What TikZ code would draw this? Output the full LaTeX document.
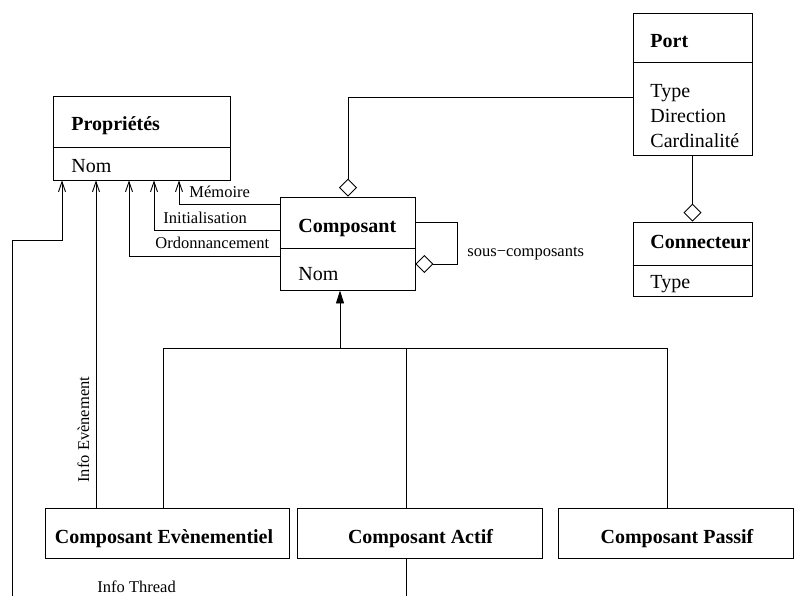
\documentclass[tikz,border=0pt]{standalone}
\usepackage{fontspec}
\setmainfont{Liberation Serif}
\usetikzlibrary{arrows.meta}
\begin{document}
\begin{tikzpicture}[x=1pt,y=-1pt, line width=0.9pt,
  cls/.style={draw, rectangle, inner sep=0pt},
  ttl/.style={font=\fontsize{20}{24}\selectfont\bfseries, inner sep=0pt, anchor=base west},
  ttlc/.style={font=\fontsize{20}{24}\selectfont\bfseries, inner sep=0pt, anchor=base},
  attr/.style={font=\fontsize{20}{24}\selectfont, inner sep=0pt, anchor=base west},
  lbl/.style={font=\fontsize{16.5}{20}\selectfont, inner sep=0pt, anchor=base west},
  uses/.style={-{Straight Barb[length=10pt,width=7pt]}},
  aggstart/.style={{Diamond[open,length=18pt,width=18pt]}-},
  aggend/.style={-{Diamond[open,length=18pt,width=18pt]}},
  inh/.style={-{Triangle[length=13pt,width=8pt]}}
]
\useasboundingbox (0,0) rectangle (794,595);
\clip (0,0) rectangle (794,595);

% Proprietes
\node[cls, minimum width=177pt, minimum height=84pt] (prop) at (141.5,138) {};
\draw (prop.west |- 0,147) -- (prop.east |- 0,147);
\node[ttl] (propT) at (71,130) {Propriétés};
\node[attr] (propA) at (71,172) {Nom};

% Composant
\node[cls, minimum width=135pt, minimum height=93pt] (comp) at (347.5,243.5) {};
\draw (comp.west |- 0,248) -- (comp.east |- 0,248);
\node[ttl] (compT) at (298,232) {Composant};
\node[attr] (compA) at (298,280) {Nom};

% Port
\node[cls, minimum width=119pt, minimum height=142pt] (port) at (692.5,84) {};
\draw (port.west |- 0,62) -- (port.east |- 0,62);
\node[ttl] (portT) at (650,47) {Port};
\node[attr] (portA) at (650,97) {Type};
\node[attr] (portB) at (650,122) {Direction};
\node[attr] (portC) at (650,147) {Cardinalité};

% Connecteur
\node[cls, minimum width=119pt, minimum height=74pt] (conn) at (692.5,259) {};
\draw (conn.west |- 0,265) -- (conn.east |- 0,265);
\node[ttl] (connT) at (650,248) {Connecteur};
\node[attr] (connA) at (650,288) {Type};

% Bottom classes
\node[cls, minimum width=244pt, minimum height=50pt] (evt) at (167,533) {};
\node[ttlc] (evtT) at (164,543) {Composant Evènementiel};
\node[cls, minimum width=245pt, minimum height=50pt] (act) at (419.5,533) {};
\node[ttlc] (actT) at (420.5,543) {Composant Actif};
\node[cls, minimum width=235pt, minimum height=50pt] (pas) at (675.5,533) {};
\node[ttlc] (pasT) at (677,543) {Composant Passif};

% Associations to Proprietes
\draw[uses] (comp.west |- 0,204) -| (prop.south -| 179,0);
\node[lbl] (lMem) at (189,197) {Mémoire};
\draw[uses] (comp.west |- 0,230) -| (prop.south -| 154,0);
\node[lbl] (lIni) at (163,223) {Initialisation};
\draw[uses] (comp.west |- 0,256) -| (prop.south -| 129,0);
\node[lbl] (lOrd) at (155,248) {Ordonnancement};

\draw[uses] (evt.north -| 96,0) -- (prop.south -| 96,0);
\node[lbl, rotate=90] (lEvt) at (89,483) {Info Evènement};

\coordinate (tbot) at (406,610);
\draw[uses] (act.south -| 406,0) -- (tbot) -| (12,240) -| (prop.south -| 62,0);
\node[lbl] (lThr) at (97,592) {Info Thread};

% Port / Connecteur
\draw[aggstart] (comp.north -| 348,0) -- (348,97) -- (port.west |- 0,97);
\draw[aggend] (port.south) -- (conn.north);

% sous-composants
\draw[aggstart] (comp.east |- 0,264) -- (457,264) -- (457,222) -- (comp.east |- 0,222);
\node[lbl] (lSous) at (467,256) {sous−composants};

% Inheritance
\draw (evt.north -| 163,0) -- (163,348) -- (667,348) -- (pas.north -| 667,0);
\draw (act.north -| 406,0) -- (406,348);
\draw[inh] (340,348) -- (comp.south -| 340,0);
\end{tikzpicture}
\end{document}
